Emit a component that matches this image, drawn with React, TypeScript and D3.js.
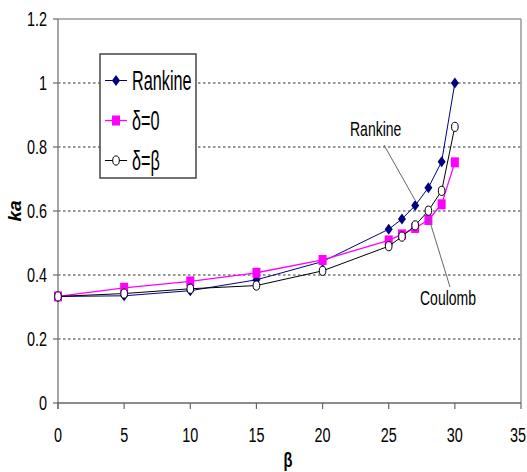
import React from "react";
import * as d3 from "d3";

const betaValues = [0, 5, 10, 15, 20, 25, 26, 27, 28, 29, 30];
const rankine = [0.333, 0.335, 0.351, 0.385, 0.442, 0.543, 0.575, 0.617, 0.673, 0.754, 1.0];
const delta0 = [0.333, 0.36, 0.38, 0.407, 0.447, 0.508, 0.527, 0.547, 0.572, 0.621, 0.752];
const deltaBeta = [0.333, 0.342, 0.357, 0.367, 0.413, 0.49, 0.52, 0.555, 0.601, 0.663, 0.863];
const xTicks = [0, 5, 10, 15, 20, 25, 30, 35];
const yTicks = [0, 0.2, 0.4, 0.6, 0.8, 1, 1.2];
const yTickLabels = ["0", "0.2", "0.4", "0.6", "0.8", "1", "1.2"];
const legendLabels = ["Rankine", "δ=0", "δ=β"];

const W = 527;
const H = 472;
const L = 58, R = 521, T = 19, B = 403;

export default function App() {
  const x = d3.scaleLinear().domain([0, 35]).range([L, R]);
  const y = d3.scaleLinear().domain([0, 1.2]).range([B, T]);
  const line = (vals: number[]) =>
    d3.line<number>().x((_, i) => x(betaValues[i])).y((v) => y(v))(vals) || "";

  const diamond = (cx: number, cy: number, k = 0) => (
    <path key={k} d={`M${cx},${cy - 5.5}L${cx + 4},${cy}L${cx},${cy + 5.5}L${cx - 4},${cy}Z`} fill="#000080" />
  );
  const square = (cx: number, cy: number, k = 0) => (
    <rect key={k} x={cx - 4} y={cy - 5} width={8} height={10} fill="#FF00FF" />
  );
  const circle = (cx: number, cy: number, k = 0) => (
    <ellipse key={k} cx={cx} cy={cy} rx={3.3} ry={4.6} fill="#fff" stroke="#000" strokeWidth={1} />
  );

  const font = "'Liberation Sans', Arial, sans-serif";
  const legendY = [80.5, 120.5, 160.5];

  return (
    <svg width={W} height={H} style={{ position: "absolute", left: 0, top: 0 }} fontFamily={font}>
      <rect x={0} y={0} width={W} height={H} fill="#fff" />
      {/* gridlines */}
      {yTicks.slice(1, -1).map((t) => (
        <line key={t} x1={L} x2={R} y1={y(t)} y2={y(t)} stroke="#333" strokeWidth={1.2} strokeDasharray="2.5,2.5" />
      ))}
      {/* plot border */}
      <line x1={L} x2={R} y1={T} y2={T} stroke="#999" strokeWidth={1.5} />
      <line x1={R} x2={R} y1={T} y2={B} stroke="#999" strokeWidth={1.5} />
      <line x1={L} x2={L} y1={T} y2={B + 6} stroke="#888" strokeWidth={1.5} />
      <line x1={L - 1} x2={R} y1={B} y2={B} stroke="#666" strokeWidth={1.5} />
      {/* y ticks */}
      {yTicks.map((t, i) => (
        <g key={t}>
          <line x1={L - 5} x2={L} y1={y(t)} y2={y(t)} stroke="#666" strokeWidth={1.2} />
          <text transform={`translate(47,${y(t) + 7}) scale(0.74,1)`} textAnchor="end" fontSize={19.5} fill="#000">
            {yTickLabels[i]}
          </text>
        </g>
      ))}
      {/* x ticks */}
      {xTicks.map((t) => (
        <g key={t}>
          <line x1={x(t)} x2={x(t)} y1={B} y2={B + 6} stroke="#666" strokeWidth={1.2} />
          <text transform={`translate(${Math.min(x(t), W - 9)},442) scale(0.74,1)`} textAnchor="middle" fontSize={19.5} fill="#000">
            {t}
          </text>
        </g>
      ))}
      {/* axis titles */}
      <text transform="translate(288,467) scale(0.7,1)" textAnchor="middle" fontSize={21} fontWeight="bold">β</text>
      <text transform="translate(21,211) rotate(-90)" textAnchor="middle" fontSize={19} fontWeight="bold" fontStyle="italic">ka</text>

      {/* series */}
      <path d={line(rankine)} fill="none" stroke="#000080" strokeWidth={1} />
      {rankine.map((v, i) => diamond(x(betaValues[i]), y(v), i))}
      <path d={line(delta0)} fill="none" stroke="#FF00FF" strokeWidth={1.3} />
      {delta0.map((v, i) => square(x(betaValues[i]), y(v), i))}
      <path d={line(deltaBeta)} fill="none" stroke="#000" strokeWidth={1} />
      {deltaBeta.map((v, i) => circle(x(betaValues[i]), y(v), i))}

      {/* annotations */}
      <line x1={384} y1={145} x2={415} y2={200} stroke="#666" strokeWidth={1} />
      <line x1={450} y1={287} x2={428.5} y2={217} stroke="#666" strokeWidth={1} />
      <text transform="translate(350,136) scale(0.7,1)" fontSize={20}>Rankine</text>
      <text transform="translate(420,305) scale(0.7,1)" fontSize={20}>Coulomb</text>

      {/* legend */}
      <rect x={100} y={54} width={96} height={124} fill="#fff" stroke="#444" strokeWidth={1.5} />
      <line x1={105} x2={127} y1={legendY[0]} y2={legendY[0]} stroke="#000080" strokeWidth={1} />
      {diamond(116, legendY[0])}
      <line x1={105} x2={127} y1={legendY[1]} y2={legendY[1]} stroke="#FF00FF" strokeWidth={1.3} />
      {square(116, legendY[1])}
      <line x1={105} x2={127} y1={legendY[2]} y2={legendY[2]} stroke="#000" strokeWidth={1} />
      {circle(116, legendY[2])}
      {legendLabels.map((s, i) => (
        <text key={s} transform={`translate(132,${legendY[i] + 9.5}) scale(0.58,1)`} fontSize={28} fill="#000">
          {s}
        </text>
      ))}
    </svg>
  );
}
